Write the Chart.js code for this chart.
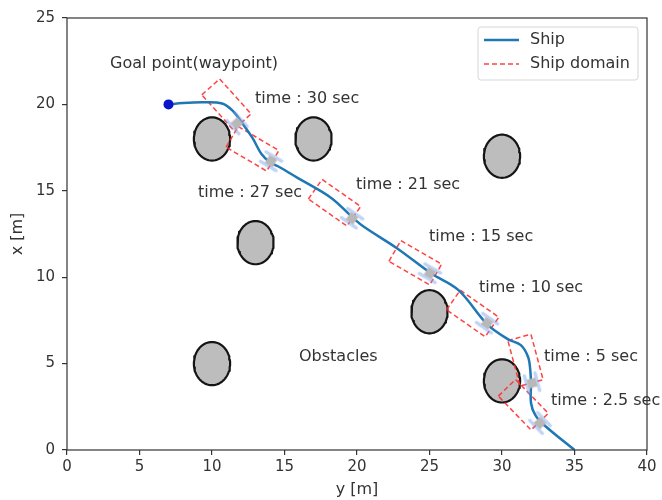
<!DOCTYPE html>
<html>
<head>
<meta charset="utf-8">
<script src="https://cdn.jsdelivr.net/npm/chart.js@4"></script>
<style>
  html, body { margin: 0; padding: 0; background: #fff; }
</style>
</head>
<body>
<canvas id="shipChart" width="662" height="500"></canvas>
<script>
// horizontal axis is "y [m]", vertical axis is "x [m]"
// ship track, from the goal point back to the start
const trackY = [7.0, 8.0, 9.4, 10.7, 11.4, 12.1, 12.8, 13.4, 14.0, 14.7, 15.9, 18.2, 19.7, 20.5, 22.8, 25.1, 27.0, 29.0, 30.4, 31.3, 31.8, 31.95, 32.0, 32.0, 32.3, 32.9, 35.0];
const trackX = [20.0, 20.08, 20.12, 20.05, 19.65, 18.9, 18.05, 17.15, 16.65, 16.35, 15.75, 14.6, 13.45, 12.9, 11.65, 10.23, 9.25, 7.25, 6.42, 6.07, 5.38, 4.62, 3.87, 2.72, 2.02, 1.45, 0.0];

// goal point (waypoint)
const goalY = [7.0];
const goalX = [20.0];

// ship snapshots (30, 27, 21, 15, 10, 5, 2.5 sec)
const shipY = [11.72, 14.07, 19.66, 25.03, 28.97, 32.07, 32.62];
const shipX = [18.90, 16.71, 13.41, 10.23, 7.34, 3.87, 1.56];
const heading = [132, 149.5, 145, 150, 145, 105, 134];

// ship domain centres, same order
const domainY = [11.0, 12.79, 18.45, 24.02, 27.98, 31.62, 31.47];
const domainX = [20.0, 17.43, 14.31, 10.84, 7.90, 5.20, 2.62];
const DOMAIN_LENGTH = 3.25;
const DOMAIN_WIDTH = 1.65;

// obstacles
const obstY = [10, 17, 30, 13, 25, 10, 30];
const obstX = [18, 18, 17, 12, 8, 5, 4];
const OBST_RADIUS = 1.25;

// text notes
const noteText = ['Goal point(waypoint)', 'time : 30 sec', 'time : 27 sec', 'time : 21 sec', 'time : 15 sec', 'time : 10 sec', 'time : 5 sec', 'time : 2.5 sec', 'Obstacles'];
const noteY = [2.97, 12.97, 9.03, 19.93, 24.97, 28.41, 32.9, 33.38, 16.0];
const noteX = [22.34, 20.31, 14.87, 15.34, 12.33, 9.38, 5.38, 2.84, 5.38];

const ASPECT = 17.28 / 14.5; // px per metre, vertical / horizontal
const FONT = '"DejaVu Sans", sans-serif';

function circlePoints(cy, cx, r) {
  const pts = [];
  for (let i = 0; i <= 72; i++) {
    const a = Math.PI / 2 + i / 72 * Math.PI * 2;
    pts.push({ x: cy + r * Math.cos(a), y: cx + r * Math.sin(a) });
  }
  return pts;
}

function domainCorners(cy, cx, hDeg) {
  const a = hDeg * Math.PI / 180;
  const ux = Math.cos(a), uy = Math.sin(a);
  const nx = -uy, ny = ux;
  const hl = DOMAIN_LENGTH / 2, hw = DOMAIN_WIDTH / 2;
  return [[hl, hw], [hl, -hw], [-hl, -hw], [-hl, hw], [hl, hw]].map(([l, w]) => ({
    x: cy + l * ux + w * nx,
    y: cx + (l * uy + w * ny) / ASPECT
  }));
}

function makeShipGlyph() {
  const c = document.createElement('canvas');
  c.width = 28; c.height = 28;
  const g = c.getContext('2d');
  g.strokeStyle = 'rgba(120,160,235,0.45)';
  g.lineWidth = 3.5;
  g.lineCap = 'round';
  [-5.5, 5.5].forEach(off => {
    g.beginPath();
    g.moveTo(5, 14 + off);
    g.lineTo(23, 14 + off);
    g.stroke();
  });
  g.fillStyle = '#b8b8b8';
  g.fillRect(9.5, 9.5, 9, 9);
  return c;
}

const datasets = [];
datasets.push({
  label: 'goal', order: 0,
  data: goalY.map((v, i) => ({ x: v, y: goalX[i] })),
  pointRadius: 5, backgroundColor: '#0a14c8', borderWidth: 0
});
datasets.push({
  label: 'ship glyph', order: 1,
  data: shipY.map((v, i) => ({ x: v, y: shipX[i] })),
  pointStyle: makeShipGlyph(),
  rotation: heading.map(h => -h)
});
datasets.push({
  label: 'Ship', order: 2, showLine: true,
  data: trackY.map((v, i) => ({ x: v, y: trackX[i] })),
  borderColor: '#1f77b4', borderWidth: 2.5, pointRadius: 0, tension: 0.35
});
domainY.forEach((v, i) => {
  datasets.push({
    label: 'Ship domain', order: 3, showLine: true,
    data: domainCorners(v, domainX[i], heading[i]),
    borderColor: 'rgba(255,45,45,0.9)', borderWidth: 1.5, borderDash: [5, 3],
    pointRadius: 0, tension: 0
  });
});
obstY.forEach((v, i) => {
  datasets.push({
    label: 'obstacle', order: 4, showLine: true,
    data: circlePoints(v, obstX[i], OBST_RADIUS),
    borderColor: '#151515', borderWidth: 2.2, backgroundColor: '#bdbdbd',
    borderJoinStyle: 'round', borderCapStyle: 'round',
    fill: 'shape', pointRadius: 0, tension: 0
  });
});

const notesPlugin = {
  id: 'notes',
  afterDatasetsDraw(chart) {
    const { ctx, scales } = chart;
    ctx.save();
    ctx.font = '16px ' + FONT;
    ctx.fillStyle = '#333';
    ctx.textAlign = 'left';
    ctx.textBaseline = 'middle';
    noteText.forEach((t, i) => {
      ctx.fillText(t, scales.x.getPixelForValue(noteY[i]), scales.y.getPixelForValue(noteX[i]));
    });
    // axes frame
    const ca = chart.chartArea;
    ctx.strokeStyle = '#333';
    ctx.lineWidth = 1.2;
    ctx.strokeRect(ca.left, ca.top, ca.right - ca.left, ca.bottom - ca.top);
    ctx.restore();
  },
  afterDraw(chart) {
    const { ctx } = chart;
    const ca = chart.chartArea;
    const w = 160, h = 53;
    const x = ca.right - 9 - w, y = ca.top + 9;
    ctx.save();
    ctx.beginPath();
    ctx.roundRect(x, y, w, h, 3);
    ctx.fillStyle = 'rgba(255,255,255,0.85)';
    ctx.fill();
    ctx.strokeStyle = '#d6d6d6';
    ctx.lineWidth = 1;
    ctx.stroke();
    ctx.lineWidth = 2.5;
    ctx.strokeStyle = '#1f77b4';
    ctx.beginPath(); ctx.moveTo(x + 6, y + 13); ctx.lineTo(x + 41, y + 13); ctx.stroke();
    ctx.lineWidth = 1.5;
    ctx.strokeStyle = 'rgba(255,45,45,0.9)';
    ctx.setLineDash([5, 3]);
    ctx.beginPath(); ctx.moveTo(x + 6, y + 37); ctx.lineTo(x + 41, y + 37); ctx.stroke();
    ctx.setLineDash([]);
    ctx.font = '16px ' + FONT;
    ctx.fillStyle = '#333';
    ctx.textBaseline = 'middle';
    ctx.fillText('Ship', x + 52, y + 13);
    ctx.fillText('Ship domain', x + 52, y + 37);
    ctx.restore();
  }
};

const axisTicks = { color: '#333', font: { family: FONT, size: 15 } };
const axisGrid = { display: true, drawOnChartArea: false, drawTicks: true, tickLength: 5, color: '#333', lineWidth: 1.2 };

new Chart(document.getElementById('shipChart').getContext('2d'), {
  type: 'scatter',
  data: { datasets: datasets },
  options: {
    responsive: false,
    animation: false,
    layout: { padding: { top: 18, right: 15, left: 0, bottom: 0 } },
    plugins: { legend: { display: false }, tooltip: { enabled: false } },
    scales: {
      x: {
        type: 'linear', min: 0, max: 40,
        ticks: Object.assign({ stepSize: 5, padding: 3 }, axisTicks),
        grid: axisGrid,
        border: { display: false },
        title: { display: true, text: 'y [m]', color: '#333', font: { family: FONT, size: 16 }, padding: { top: 0, bottom: 1 } },
        afterFit: a => { a.height = 50; }
      },
      y: {
        type: 'linear', min: 0, max: 25,
        ticks: Object.assign({ stepSize: 5, padding: 7 }, axisTicks),
        grid: axisGrid,
        border: { display: false },
        title: { display: true, text: 'x [m]', color: '#333', font: { family: FONT, size: 16 }, padding: { top: 8, bottom: 0 } },
        afterFit: a => { a.width = 67; }
      }
    }
  },
  plugins: [notesPlugin]
});
</script>
</body>
</html>
